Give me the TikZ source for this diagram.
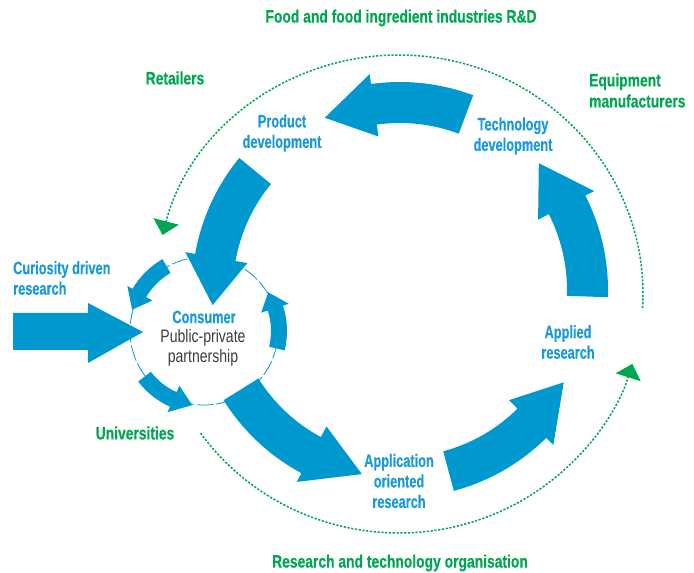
\documentclass[tikz,border=0pt]{standalone}
\usepackage{fontspec}
\newfontfamily\bcond{Liberation Sans}[FakeStretch=0.71,FakeBold=0.5]
\newfontfamily\gcond{Liberation Sans}[FakeStretch=0.77,FakeBold=0.5]
\newfontfamily\rcond{Liberation Sans}[FakeStretch=0.78]
\usetikzlibrary{arrows.meta}
\definecolor{arrblue}{HTML}{0099CF}
\definecolor{txtblue}{HTML}{1B9AD6}
\definecolor{grn}{HTML}{00A651}
\definecolor{gry}{HTML}{3C3C3C}
\tikzset{
 bluelbl/.style={text=txtblue, font=\bcond\bfseries\fontsize{18}{20.5}\selectfont, align=center, inner sep=0pt},
 greenlbl/.style={text=grn, font=\gcond\bfseries\fontsize{18}{21}\selectfont, align=center, inner sep=0pt},
 graylbl/.style={text=gry, font=\rcond\fontsize{18}{20.5}\selectfont, align=center, inner sep=0pt},
 grnarc/.style={draw=grn, line width=1.5pt, dash pattern=on 2.2pt off 1.6pt, -{Triangle[length=14pt,width=26pt]}},
 smallcirc/.style={draw=arrblue, line width=0.8pt, dash pattern=on 16pt off 3pt},
}
% center, tail angle, barb angle, tip angle, r in, r out, barb in, barb out, r tip
\newcommand\curvarr[9]{%
 \fill[arrblue,shift={(#1)}] (#2:#6) arc[start angle=#2,end angle=#3,radius=#6] -- (#3:#8) -- (#4:#9) -- (#3:#7) -- (#3:#5) arc[start angle=#3,end angle=#2,radius=#5] -- cycle;}
\begin{document}
\begin{tikzpicture}[x=1pt,y=1pt]
\useasboundingbox (0,0) rectangle (694,573);
% green dotted cycle
\draw[grnarc,shift={(399,279)}] (-3.4:244 and 239) arc[start angle=-3.4,end angle=165.7,x radius=244,y radius=239];
\draw[grnarc,shift={(399,279)}] (215.6:244 and 239) arc[start angle=215.6,end angle=343,x radius=244,y radius=239];
% small consumer circle
\draw[smallcirc] (204,242) circle[radius=74];
% big cycle arrows
\curvarr{400,283}{-2}{27}{42.4}{167}{208}{155}{218}{188}
\curvarr{400,283}{69.4}{98}{113.6}{167}{208}{155}{218}{188}
\curvarr{400,283}{140.6}{170}{184.6}{167}{208}{155}{218}{188}
\curvarr{400,283}{212}{241.7}{258.3}{167}{208}{155}{218}{188}
\curvarr{400,283}{285}{314.7}{330.6}{167}{208}{155}{218}{188}
% small arrows round consumer
\curvarr{204,242}{120}{149.5}{163.5}{67}{83}{60}{89}{75}
\curvarr{204,242}{-13.5}{17.8}{31}{67}{83}{60}{89}{75}
\curvarr{204,242}{217.5}{245.8}{261}{67}{83}{60}{89}{75}
% big input arrow
\fill[arrblue] (13,260) -- (88,260) -- (88,270) -- (143,241) -- (88,210) -- (88,223) -- (13,223) -- cycle;
% labels
\node[greenlbl] (title) at (401,555) {Food and food ingredient industries R\&D};
\node[greenlbl] (ret) at (175,495) {Retailers};
\node[greenlbl,align=left,anchor=west] (equ) at (589,482.5) {Equipment\\manufacturers};
\node[greenlbl] (uni) at (135,140) {Universities};
\node[greenlbl] (rto) at (400,10) {Research and technology organisation};
\node[bluelbl] (prod) at (282,440) {Product\\development};
\node[bluelbl] (tech) at (513,437) {Technology\\development};
\node[bluelbl] (appl) at (568,231) {Applied\\research};
\node[bluelbl] (aor) at (399,92) {Application\\oriented\\research};
\node[bluelbl,align=left,anchor=west] (cur) at (13,295) {Curiosity driven\\research};
\node[bluelbl] (cons) at (204,256) {Consumer};
\node[graylbl] (ppp) at (203,225) {Public-private\\partnership};
\end{tikzpicture}
\end{document}
